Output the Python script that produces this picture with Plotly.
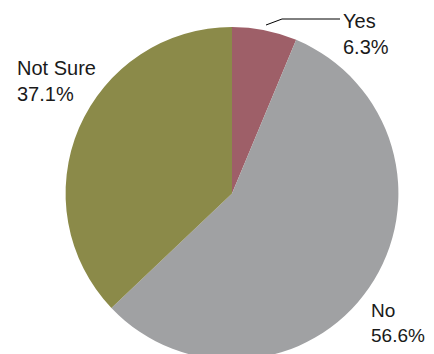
import plotly.graph_objects as go

labels = ["Yes", "No", "Not Sure"]
values = [6.3, 56.6, 37.1]
colors = ["#9E5F68", "#A0A1A3", "#8B8A49"]

OFF = 8  # browser body margin
W, H = 434, 354
cx, cy, r = 232 - OFF, 193.4 - OFF, 166.4

fig = go.Figure(go.Pie(
    labels=labels, values=values, sort=False, direction="clockwise", rotation=0,
    marker=dict(colors=colors, line=dict(width=0)),
    textinfo="none", hoverinfo="label+percent", showlegend=False,
    domain=dict(x=[(cx - r) / W, (cx + r) / W], y=[1 - (cy + r) / H, 1 - (cy - r) / H]),
))

font = dict(family="Liberation Sans, Arial, sans-serif", size=20, color="#1a1a1a")
ann = [
    ("Yes<br>6.3%", 332.5, 0.5, 20),
    ("Not Sure<br>37.1%", 6.5, 46.5, 20),
    ("No<br>56.6%", 361.0, 289.5, 19),
]
for t, x, y, s in ann:
    fig.add_annotation(text=t, x=x / W, y=1 - y / H, xref="paper", yref="paper",
                       xanchor="left", yanchor="top", showarrow=False, align="left",
                       font=dict(font, size=s))

pts = [(266 - OFF, 25 - OFF), (282 - OFF, 19 - OFF), (340 - OFF, 19 - OFF)]
for (x0, y0), (x1, y1) in zip(pts[:-1], pts[1:]):
    fig.add_shape(type="line", x0=x0 / W, y0=1 - y0 / H, x1=x1 / W, y1=1 - y1 / H,
                  xref="paper", yref="paper", line=dict(color="black", width=1))

fig.update_layout(width=W, height=H, margin=dict(l=0, r=0, t=0, b=0),
                  paper_bgcolor="white", plot_bgcolor="white")
fig.write_html("out.html")
